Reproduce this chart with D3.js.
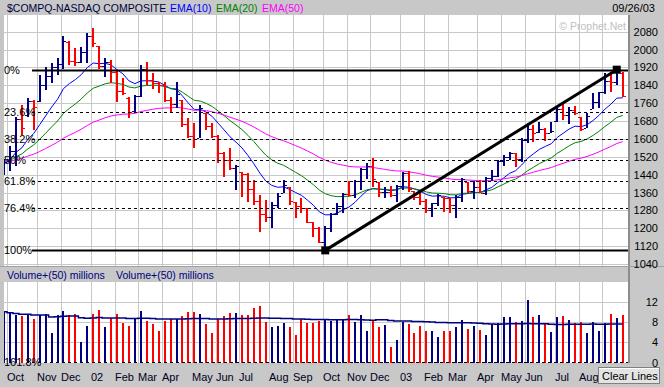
<!DOCTYPE html>
<html><head><meta charset="utf-8">
<script src="https://cdn.jsdelivr.net/npm/d3@7"></script>
<style>body{margin:0;background:#c4c4c4}svg{display:block;font-family:"Liberation Sans",Arial,sans-serif}</style>
</head><body><svg id="c" width="664" height="387"></svg>
<script>
// ---- data (weekly bars, first week starts Mon 2001-09-24) ----
const startWeek = "2001-09-24";
const opens = [1440,1500,1545,1690,1705,1768,1770,1840,1880,1920,
1935,2035,1950,1945,1990,2060,2015,1925,1945,1900,
1815,1785,1725,1790,1915,1865,1850,1840,1775,1755,
1774,1665,1615,1605,1715,1660,1615,1535,1505,1470,
1450,1445,1374,1320,1262,1250,1305,1360,1386,1319,
1300,1290,1230,1200,1140,1200,1262,1300,1355,1349,
1411,1466,1479,1405,1362,1364,1348,1387,1448,1368,
1342,1321,1283,1311,1338,1334,1305,1340,1406,1369,
1383,1358,1425,1434,1502,1520,1535,1510,1596,1646,
1630,1644,1628,1680,1733,1708,1731,1699,1648,1732,
1765,1810,1858,1855,1896];
const highs = [1510,1570,1700,1752,1782,1774,1886,1923,1938,1961,
2062,2037,2007,2010,2074,2096,2018,1963,1954,1909,
1871,1789,1797,1931,1946,1894,1856,1856,1789,1856,
1774,1692,1670,1752,1715,1670,1618,1543,1558,1483,
1453,1446,1416,1349,1327,1319,1357,1416,1386,1319,
1334,1290,1230,1207,1210,1270,1315,1358,1412,1415,
1470,1491,1513,1409,1386,1389,1392,1453,1458,1368,
1364,1330,1312,1355,1338,1334,1349,1425,1406,1413,
1416,1428,1461,1505,1528,1543,1535,1603,1670,1662,
1677,1647,1677,1747,1756,1741,1747,1699,1714,1807,
1811,1893,1890,1910,1901];
const lows = [1440,1455,1480,1617,1700,1640,1767,1819,1849,1886,
1915,1932,1925,1940,1940,2010,1912,1878,1849,1767,
1797,1692,1722,1786,1841,1822,1804,1767,1722,1737,
1655,1603,1558,1603,1640,1603,1491,1431,1461,1371,
1341,1319,1304,1185,1230,1200,1290,1357,1304,1245,
1267,1222,1162,1133,1101,1185,1259,1270,1346,1337,
1371,1419,1386,1341,1334,1341,1319,1371,1364,1327,
1304,1270,1252,1300,1274,1270,1244,1319,1356,1330,
1356,1349,1413,1431,1479,1506,1473,1498,1580,1588,
1628,1592,1628,1677,1685,1667,1707,1637,1647,1732,
1737,1801,1811,1841,1786];
const closes = [1498,1545,1690,1650,1768,1745,1840,1880,1920,1935,
2040,1950,1945,1990,2060,2030,1925,1945,1900,1815,
1805,1720,1790,1915,1865,1850,1840,1775,1755,1800,
1665,1615,1600,1740,1660,1615,1535,1505,1470,1478,
1445,1374,1320,1262,1250,1305,1345,1395,1320,1300,
1290,1230,1200,1140,1200,1262,1300,1352,1349,1411,
1466,1479,1422,1362,1364,1348,1387,1448,1376,1342,
1321,1283,1311,1349,1337,1305,1340,1421,1369,1383,
1358,1425,1434,1502,1520,1538,1510,1596,1646,1627,
1644,1625,1634,1733,1708,1731,1715,1644,1702,1765,
1810,1858,1855,1905,1792];
const volumes = [10.0,9.7,9.4,9.1,9.4,8.6,9.4,9.5,5.9,9.4,
10.2,9.4,9.6,4.1,7.3,9.6,10.4,7.0,8.7,9.6,
7.9,7.3,8.7,10.2,8.2,7.6,6.3,8.2,8.5,8.5,
9.2,9.9,9.9,9.6,7.6,5.9,8.5,9.2,9.8,9.8,
9.4,9.4,10.7,11.2,8.1,7.1,7.2,7.9,7.0,5.4,
8.5,7.9,7.9,8.2,8.5,8.3,8.4,8.4,9.4,8.1,
9.4,6.3,8.3,7.0,7.4,3.0,4.5,8.1,7.7,5.9,
7.2,6.3,6.3,5.0,6.3,6.3,7.0,8.4,6.6,7.2,
6.4,5.5,7.6,7.9,8.9,8.9,8.1,8.2,12.3,8.9,
9.4,7.9,6.1,8.9,9.2,8.4,7.9,8.1,5.9,8.1,
6.3,7.9,9.6,8.7,9.4];
const priceTicks = [1040,1120,1200,1280,1360,1440,1520,1600,1680,1760,1840,1920,2000,2080];
const volTicks = [0,4,8,12];
const fibLevels = [0,0.236,0.382,0.5,0.618,0.764,1,1.618];
const fibLabels = ["0%","23.6%","38.2%","50%","61.8%","76.4%","100%","161.8%"];
const emaPeriods = [10,20,50];
const emaColors = ["#0000ff","#008000","#ff00ff"];
const volAvgPeriod = 50;
const trendFrom = 54, trendTo = 103;   // low bar -> high bar

// ---- setup ----
const svg = d3.select("#c");
const W = 664, H = 387;
const L = 4, R = 628, PT = 15, PB = 266, VT = 282, VB = 363;
const n = closes.length;
const start = d3.timeParse("%Y-%m-%d")(startWeek);
const dates = d3.range(n).map(i => d3.timeMonday.offset(start, i));
const x = d3.scaleLinear().domain([0, n - 1]).range([4, 622.7]);
const y = d3.scaleLinear().domain([1040, 2080]).range([264, 31.7]);
const yv = d3.scaleLinear().domain([0, 12]).range([362.7, 301.7]);
const NAVY = "#000080", RED = "#ff0000", GRID = "#c8c8c8", PANEL = "#c8c8c8";

// backgrounds
svg.append("rect").attr("width", W).attr("height", H).attr("fill", "#c4c4c4");
svg.append("rect").attr("x", 0).attr("y", 0).attr("width", W).attr("height", PT).attr("fill", PANEL);
svg.append("rect").attr("x", L).attr("y", PT).attr("width", R - L).attr("height", PB - PT).attr("fill", "#fff");
svg.append("rect").attr("x", R).attr("y", PT).attr("width", W - R).attr("height", PB - PT).attr("fill", PANEL);
svg.append("rect").attr("x", 0).attr("y", PB + 1).attr("width", W).attr("height", VT - PB - 1).attr("fill", PANEL);
svg.append("rect").attr("x", L).attr("y", VT).attr("width", R - L).attr("height", VB - VT).attr("fill", "#fff");
svg.append("rect").attr("x", R).attr("y", VT).attr("width", W - R).attr("height", VB - VT).attr("fill", PANEL);
svg.append("rect").attr("x", 0).attr("y", VB + 2).attr("width", W).attr("height", H - VB - 2).attr("fill", PANEL);
svg.append("rect").attr("x", R).attr("y", PT).attr("width", 2).attr("height", VB - PT).attr("fill", "#8c8c8c");
svg.append("rect").attr("x", 0).attr("y", PB).attr("width", W).attr("height", 1).attr("fill", "#a0a0a0");

const defs = svg.append("defs");
defs.append("clipPath").attr("id", "cp").append("rect").attr("x", L).attr("y", PT).attr("width", R - L).attr("height", PB - PT);
defs.append("clipPath").attr("id", "cv").append("rect").attr("x", L).attr("y", VT).attr("width", R - L).attr("height", VB - VT + 1);

// month boundaries
const monthIdx = d3.range(1, n).filter(i => dates[i].getMonth() !== dates[i - 1].getMonth());
const gx = i => Math.round(x(i) - 2.5) + 0.5;

// grid
const gp = svg.append("g").attr("clip-path", "url(#cp)");
gp.selectAll(".hg").data(priceTicks).join("line")
  .attr("x1", L).attr("x2", R).attr("y1", d => Math.round(y(d)) + 0.5).attr("y2", d => Math.round(y(d)) + 0.5)
  .attr("stroke", GRID);
gp.selectAll(".vg").data(monthIdx).join("line")
  .attr("x1", gx).attr("x2", gx).attr("y1", PT).attr("y2", PB).attr("stroke", GRID);
const gv = svg.append("g").attr("clip-path", "url(#cv)");
gv.selectAll(".hg").data([4, 8, 12, 16]).join("line")
  .attr("x1", L).attr("x2", R).attr("y1", d => Math.round(yv(d)) + 0.5).attr("y2", d => Math.round(yv(d)) + 0.5)
  .attr("stroke", GRID);
gv.selectAll(".vg").data(monthIdx).join("line")
  .attr("x1", gx).attr("x2", gx).attr("y1", VT).attr("y2", VB).attr("stroke", GRID);

// colour by close vs previous close
const col = i => (i > 0 && closes[i] < closes[i - 1]) ? RED : NAVY;

// EMAs
const emas = emaPeriods.map(p => {
  const a = 2 / (p + 1); const out = [];
  closes.forEach((c, i) => out.push(i === 0 ? c : out[i - 1] + a * (c - out[i - 1])));
  return out;
});
const line = d3.line().x((d, i) => x(i)).y(d => y(d));
emas.forEach((e, j) => gp.append("path").attr("d", line(e)).attr("fill", "none")
  .attr("stroke", emaColors[j]).attr("stroke-width", 1));

// OHLC bars
const bars = gp.append("g").attr("shape-rendering", "crispEdges");
d3.range(n).forEach(i => {
  const cx = Math.round(x(i));
  const g = bars.append("g").attr("fill", col(i));
  g.append("rect").attr("x", cx - 1).attr("y", y(highs[i])).attr("width", 2).attr("height", y(lows[i]) - y(highs[i]));
  g.append("rect").attr("x", cx - 3).attr("y", Math.round(y(opens[i]))).attr("width", 2).attr("height", 1);
  g.append("rect").attr("x", cx + 1).attr("y", Math.round(y(closes[i]))).attr("width", 2).attr("height", 1);
});

// volume bars
gv.append("g").attr("shape-rendering", "crispEdges").selectAll("rect").data(volumes).join("rect")
  .attr("x", (d, i) => Math.round(x(i)) - 1).attr("width", 2)
  .attr("y", d => yv(d)).attr("height", d => yv(0) - yv(d)).attr("fill", (d, i) => col(i));
const vavg = volumes.map((v, i) => d3.mean(volumes.slice(Math.max(0, i - volAvgPeriod + 1), i + 1)));
gv.append("path").attr("d", d3.line().x((d, i) => x(i)).y(d => yv(d)).curve(d3.curveStep)(vavg))
  .attr("fill", "none").attr("stroke", NAVY).attr("stroke-width", 1.5);

// fibonacci retracement
const fHigh = highs[trendTo], fLow = lows[trendFrom];
const fg = svg.append("g");
fibLevels.forEach((f, j) => {
  const yy = Math.round(y(fHigh - f * (fHigh - fLow))) + 0.5;
  const solid = (f === 0 || f === 1);
  fg.append("line").attr("x1", 32).attr("x2", R).attr("y1", yy).attr("y2", yy)
    .attr("stroke", "#000").attr("stroke-width", solid ? 2 : 1)
    .attr("stroke-dasharray", solid ? null : "3,3");
  fg.append("text").attr("x", 4).attr("y", yy).attr("dy", "0.35em")
    .attr("font-size", 11).attr("fill", "#000").text(fibLabels[j]);
});

// trend line
const p1 = [x(trendFrom), y(lows[trendFrom])], p2 = [x(trendTo), y(highs[trendTo])];
svg.append("line").attr("x1", p1[0]).attr("y1", p1[1]).attr("x2", p2[0]).attr("y2", p2[1])
  .attr("stroke", "#000").attr("stroke-width", 3);
[p1, p2].forEach(p => svg.append("rect").attr("x", p[0] - 4).attr("y", p[1] - 4)
  .attr("width", 8).attr("height", 8).attr("fill", "#000"));

// axes
const ay = svg.append("g").attr("transform", `translate(658,0)`)
  .call(d3.axisLeft(y).tickValues(priceTicks).tickSize(0).tickPadding(0).tickFormat(d3.format("d")));
const av = svg.append("g").attr("transform", `translate(658,0)`)
  .call(d3.axisLeft(yv).tickValues(volTicks).tickSize(0).tickPadding(0));
[ay, av].forEach(a => { a.select(".domain").remove();
  a.selectAll("text").attr("font-size", 11).attr("font-family", "Liberation Sans, Arial, sans-serif").attr("fill", "#000"); });

// month labels (the one under the "Clear Lines" button is hidden in the original)
const btnX = 598.5;
const fmtM = d3.timeFormat("%b"), fmtY = d3.timeFormat("%y");
svg.append("g").selectAll("text").data(monthIdx.filter(i => gx(i) + 18 < btnX)).join("text")
  .attr("x", i => gx(i) - 0.5).attr("y", 381).attr("font-size", 11).attr("fill", "#000020")
  .text(i => dates[i].getMonth() === 0 ? fmtY(dates[i]) : fmtM(dates[i]));

// header texts
svg.append("text").attr("x", 7).attr("y", 12).attr("font-size", 10.5).attr("fill", "#000040").text("$COMPQ-NASDAQ COMPOSITE");
svg.append("text").attr("x", 170).attr("y", 12).attr("font-size", 10.5).attr("fill", "#0000ff").text("EMA(10)");
svg.append("text").attr("x", 216).attr("y", 12).attr("font-size", 10.5).attr("fill", "#008000").text("EMA(20)");
svg.append("text").attr("x", 262).attr("y", 12).attr("font-size", 10.5).attr("fill", "#ff00ff").text("EMA(50)");
svg.append("text").attr("x", 655).attr("y", 12).attr("text-anchor", "end").attr("font-size", 11).attr("fill", "#000").text("09/26/03");
svg.append("text").attr("x", 626).attr("y", 29.5).attr("text-anchor", "end").attr("font-size", 10.5).attr("fill", "#c0c0c0").text("© Prophet.Net");
svg.append("text").attr("x", 7).attr("y", 279).attr("font-size", 10.5).attr("fill", NAVY).text("Volume+(50) millions");
svg.append("text").attr("x", 116).attr("y", 279).attr("font-size", 10.5).attr("fill", NAVY).text("Volume+(50) millions");

// Clear Lines button
const b = svg.append("g");
b.append("rect").attr("x", btnX).attr("y", 367.5).attr("width", 61).attr("height", 16).attr("fill", "#e4e4e4").attr("stroke", "#808080");
b.append("line").attr("x1", 599).attr("x2", 659).attr("y1", 368.5).attr("y2", 368.5).attr("stroke", "#fff");
b.append("text").attr("x", 602).attr("y", 380).attr("font-size", 11).attr("fill", "#000").text("Clear Lines");
</script></body></html>
